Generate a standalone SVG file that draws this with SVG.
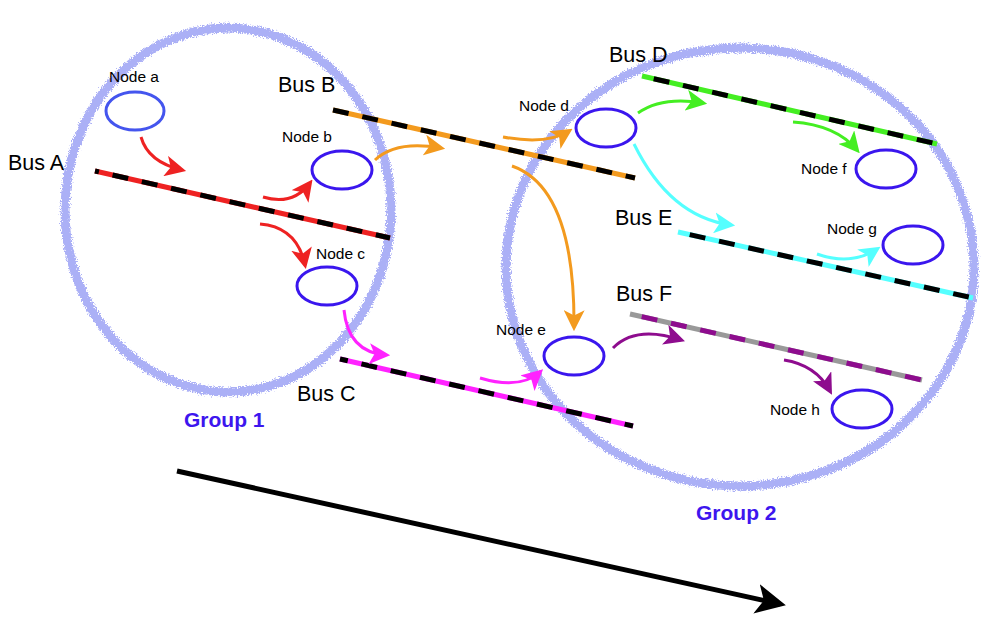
<svg xmlns="http://www.w3.org/2000/svg" width="985" height="625" viewBox="0 0 985 625">
<style>
.grp{fill:none;stroke:#abb0f6;stroke-width:9;filter:url(#rough)}
.node{fill:none;stroke:#3a16ee;stroke-width:3}
.nl{font-family:"Liberation Sans",Arial,sans-serif;font-size:15.5px;fill:#000}
.bl{font-family:"Liberation Sans",Arial,sans-serif;font-size:21.5px;fill:#000}
.gl{font-family:"Liberation Sans",Arial,sans-serif;font-size:21px;font-weight:bold;fill:#3d16ee}
.bus{stroke-width:5;fill:none}
.dash{stroke:#000;stroke-width:5;stroke-dasharray:16 14;fill:none}
.arr{fill:none;stroke-width:3}
</style>
<defs>
<filter id="rough" x="-10%" y="-10%" width="120%" height="120%">
<feTurbulence type="fractalNoise" baseFrequency="0.8" numOctaves="2" seed="3" result="n"/>
<feDisplacementMap in="SourceGraphic" in2="n" scale="7" xChannelSelector="R" yChannelSelector="G"/>
</filter>
<marker id="mRed" viewBox="0 0 10 10" refX="8" refY="5" markerWidth="7" markerHeight="7" orient="auto" markerUnits="strokeWidth"><path d="M0,0 L10,5 L0,10 L2.5,5 z" fill="#ee2222"/></marker>
<marker id="mOra" viewBox="0 0 10 10" refX="8" refY="5" markerWidth="7" markerHeight="7" orient="auto" markerUnits="strokeWidth"><path d="M0,0 L10,5 L0,10 L2.5,5 z" fill="#f39a1e"/></marker>
<marker id="mMag" viewBox="0 0 10 10" refX="8" refY="5" markerWidth="7" markerHeight="7" orient="auto" markerUnits="strokeWidth"><path d="M0,0 L10,5 L0,10 L2.5,5 z" fill="#ff22ff"/></marker>
<marker id="mGrn" viewBox="0 0 10 10" refX="8" refY="5" markerWidth="7" markerHeight="7" orient="auto" markerUnits="strokeWidth"><path d="M0,0 L10,5 L0,10 L2.5,5 z" fill="#44ee22"/></marker>
<marker id="mCya" viewBox="0 0 10 10" refX="8" refY="5" markerWidth="7" markerHeight="7" orient="auto" markerUnits="strokeWidth"><path d="M0,0 L10,5 L0,10 L2.5,5 z" fill="#55ffff"/></marker>
<marker id="mPur" viewBox="0 0 10 10" refX="8" refY="5" markerWidth="7" markerHeight="7" orient="auto" markerUnits="strokeWidth"><path d="M0,0 L10,5 L0,10 L2.5,5 z" fill="#8e0c8e"/></marker>
<marker id="mBlk" viewBox="0 0 10 10" refX="8" refY="5" markerWidth="6" markerHeight="6" orient="auto" markerUnits="strokeWidth"><path d="M0,0 L10,5 L0,10 L2.5,5 z" fill="#000"/></marker>
</defs>
<rect width="985" height="625" fill="#fff"/>

<g id="group1"><ellipse class="grp" cx="228" cy="210" rx="163" ry="182"/><text class="gl" x="184" y="427">Group 1</text></g>
<g id="group2"><ellipse class="grp" cx="740" cy="267" rx="234" ry="219"/><text class="gl" x="696" y="520">Group 2</text></g>

<g id="busA"><line class="bus" stroke="#ee2222" x1="95" y1="171" x2="390" y2="238"/><line class="dash" x1="95" y1="171" x2="390" y2="238" stroke-dashoffset="12"/><text class="bl" x="8" y="170">Bus A</text></g>
<g id="busB"><line class="bus" stroke="#f39a1e" x1="333" y1="110" x2="635" y2="178"/><line class="dash" x1="333" y1="110" x2="635" y2="178" stroke-dashoffset="0"/><text class="bl" x="278" y="92">Bus B</text></g>
<g id="busC"><line class="bus" stroke="#ff22ff" x1="340" y1="359" x2="633" y2="426"/><line class="dash" x1="340" y1="359" x2="633" y2="426" stroke-dashoffset="8"/><text class="bl" x="297" y="401">Bus C</text></g>
<g id="busD"><line class="bus" stroke="#44ee22" x1="642" y1="76" x2="937" y2="144"/><line class="dash" x1="642" y1="76" x2="937" y2="144" stroke-dashoffset="-12"/><text class="bl" x="609" y="62">Bus D</text></g>
<g id="busE"><line class="bus" stroke="#55ffff" x1="678" y1="232" x2="973" y2="298"/><line class="dash" x1="678" y1="232" x2="973" y2="298" stroke-dashoffset="-12"/><text class="bl" x="615" y="225">Bus E</text></g>
<g id="busF"><line class="bus" stroke="#999999" x1="630" y1="314" x2="922" y2="380"/><line class="bus" stroke="#8e0c8e" stroke-dasharray="16 14" x1="630" y1="314" x2="922" y2="380" stroke-dashoffset="-12"/><text class="bl" x="616" y="301">Bus F</text></g>

<g id="connectors">
<path class="arr" stroke="#ee2222" marker-end="url(#mRed)" d="M141,137 Q148,162 182,170"/>
<path class="arr" stroke="#ee2222" marker-end="url(#mRed)" d="M263,197 Q293,206 310,183"/>
<path class="arr" stroke="#ee2222" marker-end="url(#mRed)" d="M260,224 Q297,227 305,265"/>
<path class="arr" stroke="#f39a1e" marker-end="url(#mOra)" d="M375,160 Q396,140 441,148"/>
<path class="arr" stroke="#f39a1e" marker-end="url(#mOra)" d="M503,137 Q547,145 569,131"/>
<path class="arr" stroke="#f39a1e" marker-end="url(#mOra)" d="M512,166 Q575,188 574,327"/>
<path class="arr" stroke="#ff22ff" marker-end="url(#mMag)" d="M344,310 Q348,352 386,355"/>
<path class="arr" stroke="#ff22ff" marker-end="url(#mMag)" d="M480,378 Q520,390 540,372"/>
<path class="arr" stroke="#44ee22" marker-end="url(#mGrn)" d="M638,113 Q662,96 703,103"/>
<path class="arr" stroke="#44ee22" marker-end="url(#mGrn)" d="M793,122 Q836,125 857,150"/>
<path class="arr" stroke="#55ffff" marker-end="url(#mCya)" d="M634,144 Q670,217 731,225"/>
<path class="arr" stroke="#55ffff" marker-end="url(#mCya)" d="M817,254 Q851,266 877,249"/>
<path class="arr" stroke="#8e0c8e" marker-end="url(#mPur)" d="M613,348 Q636,325 681,340"/>
<path class="arr" stroke="#8e0c8e" marker-end="url(#mPur)" d="M784,360 Q816,365 830,391"/>
<line x1="177" y1="471" x2="780" y2="604" stroke="#000" stroke-width="5" marker-end="url(#mBlk)"/>
</g>

<g id="nodeA"><ellipse class="node" style="stroke:#4455ee" cx="135" cy="111" rx="29" ry="19"/><text class="nl" x="109" y="82">Node a</text></g>
<g id="nodeB"><ellipse class="node" cx="342" cy="170" rx="30" ry="19"/><text class="nl" x="282" y="142">Node b</text></g>
<g id="nodeC"><ellipse class="node" cx="327" cy="286" rx="30" ry="19"/><text class="nl" x="316" y="259">Node c</text></g>
<g id="nodeD"><ellipse class="node" cx="606" cy="128" rx="30" ry="19"/><text class="nl" x="519" y="111">Node d</text></g>
<g id="nodeE"><ellipse class="node" cx="574" cy="356" rx="30" ry="19"/><text class="nl" x="496" y="335">Node e</text></g>
<g id="nodeF"><ellipse class="node" cx="886" cy="169" rx="30" ry="19"/><text class="nl" x="801" y="174">Node f</text></g>
<g id="nodeG"><ellipse class="node" cx="913" cy="245" rx="30" ry="19"/><text class="nl" x="827" y="234">Node g</text></g>
<g id="nodeH"><ellipse class="node" cx="862" cy="409" rx="30" ry="19"/><text class="nl" x="770" y="415">Node h</text></g>
</svg>
